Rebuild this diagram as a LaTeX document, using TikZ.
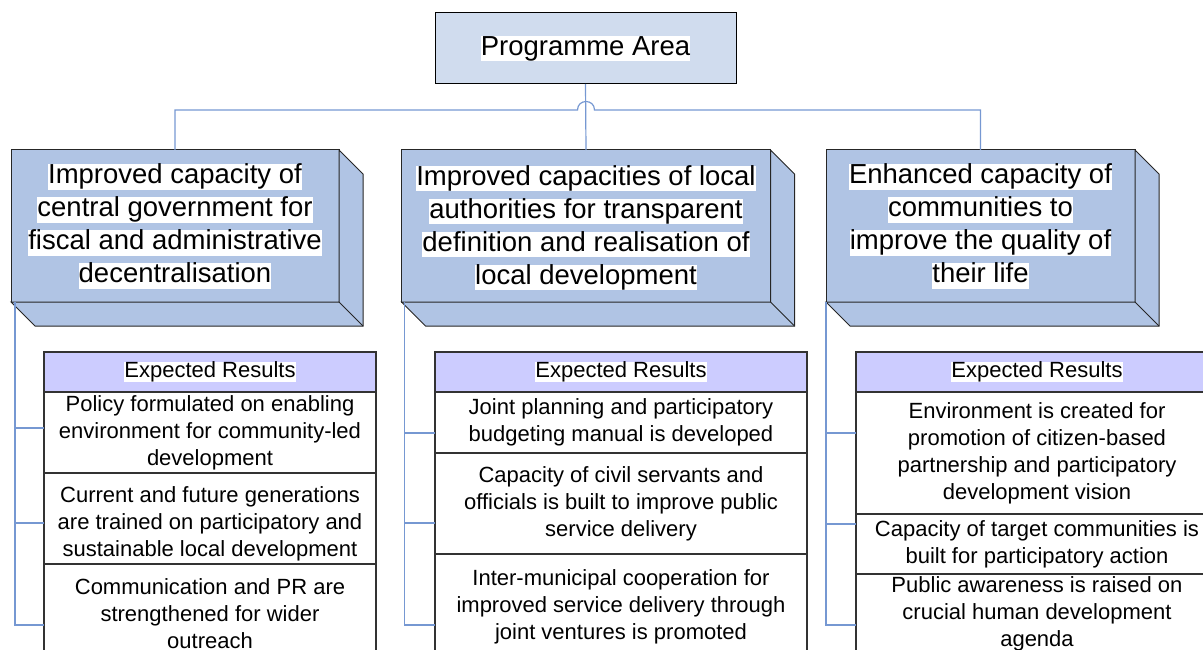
\documentclass[tikz,border=0pt]{standalone}
\usepackage{fontspec}
\setmainfont{Liberation Sans}
\usetikzlibrary{calc}
\definecolor{paFill}{RGB}{208,220,238}
\definecolor{boxFill}{RGB}{176,196,228}
\definecolor{hdFill}{RGB}{204,204,255}
\definecolor{connC}{RGB}{118,152,210}
\newcommand{\hlw}[1]{{\setlength{\fboxsep}{0pt}\colorbox{white}{\rule[-0.22em]{0pt}{0.94em}#1}}}
\begin{document}
\begin{tikzpicture}[x=1pt,y=-1pt,
  pabox/.style={draw=black, fill=paFill, line width=1, minimum width=301, minimum height=71, inner sep=0, outer sep=0, font=\fontsize{27.5}{33}\selectfont},
  front/.style={draw=black!85, fill=boxFill, line width=1, inner sep=0, outer sep=0, minimum height=152},
  depthface/.style={draw=black!85, fill=boxFill, line width=1, line join=miter},
  btext/.style={align=center, inner sep=0, font=\fontsize{27.5}{33}\selectfont},
  thead/.style={draw=black!80, fill=hdFill, line width=1.2, minimum height=40, inner sep=0, outer sep=0, font=\fontsize{22}{27}\selectfont},
  trow/.style={draw=black!80, fill=white, line width=1.2, inner sep=0, outer sep=0, align=center, font=\fontsize{22}{27}\selectfont},
  rowtext/.style={align=center, inner sep=0, font=\fontsize{22}{27}\selectfont},
  conn/.style={draw=connC, line width=1.2}]
\useasboundingbox (0,0) rectangle (1203,650);
\clip (0,0) rectangle (1203,650);

% top box
\node[pabox] (pa) at (585.5,48.5) {\hlw{Programme Area}};

% 3D boxes
\node[front, minimum width=328] (b1) at (175,226) {};
\node[front, minimum width=369] (b2) at (586,226) {};
\node[front, minimum width=309] (b3) at (980.5,226) {};
\foreach \b in {b1,b2,b3}{
  \draw[depthface] (\b.north east) -- ++(24,24) |- ($(\b.south west)+(24,24)$) -- (\b.south west) -- (\b.south east) -- cycle;
  \draw[depthface] (\b.south east) -- ++(24,24);
}
\node[btext] (b1t) at (175,226.5) {\hlw{Improved capacity of}\\\hlw{central government for}\\\hlw{fiscal and administrative}\\\hlw{decentralisation}};
\node[btext] (b2t) at (586,228) {\hlw{Improved capacities of local}\\\hlw{authorities for transparent}\\\hlw{definition and realisation of}\\\hlw{local development}};
\node[btext] (b3t) at (980.5,226.5) {\hlw{Enhanced capacity of}\\\hlw{communities to}\\\hlw{improve the quality of}\\\hlw{their life}};

% connectors from programme area
\coordinate (hopL) at (577.5,110);
\coordinate (hopR) at (594.5,110);
\draw[conn] (pa.south) -- (b2.north);
\draw[conn] (b1.north) -- (b1.north |- hopL) -- (hopL) .. controls (577.5,98.7) and (594.5,98.7) .. (hopR) -- (b3.north |- hopR) -- (b3.north);

% table 1
\node[thead, minimum width=332, anchor=north west] (t1h) at (44,352) {\hlw{Expected Results}};
\node[trow, minimum width=332, minimum height=81, anchor=north] (t1r1) at (t1h.south) {Policy formulated on enabling\\environment for community-led\\development};
\node[trow, minimum width=332, minimum height=91, anchor=north] (t1r2) at (t1r1.south) {};
\node[rowtext] (t1r2t) at ($(t1r2.center)+(0,5)$) {Current and future generations\\are trained on participatory and\\sustainable local development};
\node[trow, minimum width=332, minimum height=100, anchor=north] (t1r3) at (t1r2.south) {Communication and PR are\\strengthened for wider\\outreach};

% table 2
\node[thead, minimum width=372, anchor=north west] (t2h) at (435,352) {\hlw{Expected Results}};
\node[trow, minimum width=372, minimum height=61, anchor=north] (t2r1) at (t2h.south) {Joint planning and participatory\\budgeting manual is developed};
\node[trow, minimum width=372, minimum height=101, anchor=north] (t2r2) at (t2r1.south) {Capacity of civil servants and\\officials is built to improve public\\service delivery};
\node[trow, minimum width=372, minimum height=100, anchor=north] (t2r3) at (t2r2.south) {};
\node[rowtext] (t2r3t) at ($(t2r3.center)+(0,3)$) {Inter-municipal cooperation for\\improved service delivery through\\joint ventures is promoted};

% table 3
\node[thead, minimum width=362, anchor=north west] (t3h) at (856,352) {\hlw{Expected Results}};
\node[trow, minimum width=362, minimum height=122, anchor=north] (t3r1) at (t3h.south) {Environment is created for\\promotion of citizen-based\\partnership and participatory\\development vision};
\node[trow, minimum width=362, minimum height=60, anchor=north] (t3r2) at (t3r1.south) {Capacity of target communities is\\built for participatory action};
\node[trow, minimum width=362, minimum height=80, anchor=north] (t3r3) at (t3r2.south) {Public awareness is raised on\\crucial human development\\agenda};

% brackets to tables
\coordinate (v1) at ($(b1.south west)+(4,0)$);
\coordinate (v2) at ($(b2.south west)+(3,0)$);
\coordinate (v3) at ($(b3.south west)+(0,0)$);
\draw[conn] (v1) -- (v1 |- 0,625) -- (t1h.west |- 0,625);
\draw[conn] (v1 |- 0,428) -- (t1h.west |- 0,428);
\draw[conn] (v1 |- 0,523) -- (t1h.west |- 0,523);
\draw[conn] (v2) -- (v2 |- 0,625) -- (t2h.west |- 0,625);
\draw[conn] (v2 |- 0,433) -- (t2h.west |- 0,433);
\draw[conn] (v2 |- 0,523) -- (t2h.west |- 0,523);
\draw[conn] (v3) -- (v3 |- 0,625) -- (t3h.west |- 0,625);
\draw[conn] (v3 |- 0,433) -- (t3h.west |- 0,433);
\draw[conn] (v3 |- 0,524) -- (t3h.west |- 0,524);
\end{tikzpicture}
\end{document}
